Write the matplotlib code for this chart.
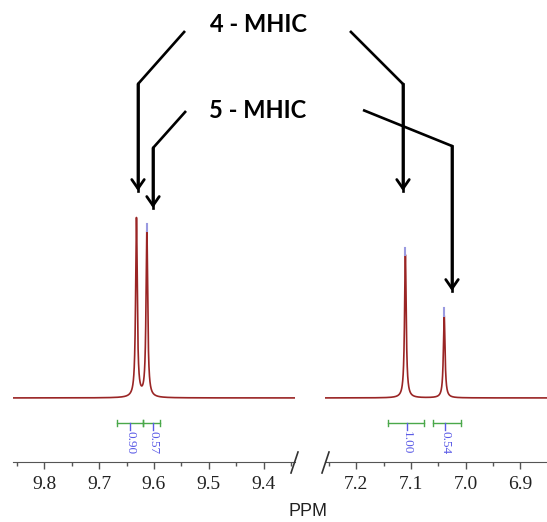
#!/usr/bin/env python3
"""
1H NMR excerpt: 4-MHIC vs 5-MHIC signals on a broken PPM axis
(9.85-9.35 | 7.25-6.85) with integrals and arrow callouts.
Writes out.png (547x522).
"""
import numpy as np
import matplotlib

matplotlib.use("Agg")
import matplotlib.pyplot as plt
from matplotlib.lines import Line2D

# peaks: chemical shift (ppm), relative height, peak-pick marker shown
LEFT_SHIFTS = [9.632, 9.613]
LEFT_HEIGHTS = [1.00, 0.93]
LEFT_MARKED = [False, True]
RIGHT_SHIFTS = [7.110, 7.039]
RIGHT_HEIGHTS = [0.80, 0.46]
RIGHT_MARKED = [True, True]
HWHM = 0.0018  # lorentzian half width, ppm

# integrals: region edges (ppm), value label, label position (ppm)
LEFT_INT_EDGES = [(9.667, 9.620), (9.620, 9.589)]
LEFT_INT_VALUES = ["0.90", "0.57"]
LEFT_INT_POS = [9.643, 9.601]
RIGHT_INT_EDGES = [(7.141, 7.076), (7.059, 7.008)]
RIGHT_INT_VALUES = ["1.00", "0.54"]
RIGHT_INT_POS = [7.107, 7.037]

LEFT_XLIM = (9.857, 9.343)
RIGHT_XLIM = (7.257, 6.851)
LEFT_TICKS = [9.8, 9.7, 9.6, 9.5, 9.4]
RIGHT_TICKS = [7.2, 7.1, 7.0, 6.9]

LABELS = ["4 - MHIC", "5 - MHIC"]

W, H = 547, 522
RED = "#9a2525"
GREEN = "#4aa84a"
BLUE = "#5a5ae6"


def px(x, y):
    # pixel (from top-left) -> figure fraction
    return x / W, 1 - y / H


def spectrum(xlim, shifts, heights):
    x = np.linspace(xlim[0], xlim[1], 6000)
    y = np.zeros_like(x)
    for s, h in zip(shifts, heights):
        y += h * HWHM**2 / ((x - s) ** 2 + HWHM**2)
    return x, y


def panel(fig, rect, xlim, ticks, shifts, heights, marked, edges, values, pos):
    ax = fig.add_axes(rect)
    x, y = spectrum(xlim, shifts, heights)
    ax.plot(x, y, color=RED, lw=1.2)
    # peak-pick markers
    for s, h, m in zip(shifts, heights, marked):
        if m:
            ax.plot([s, s], [h, h + 0.04], color="#9a9ae0", lw=1.5)
    # integrals
    yb, dt = -0.14, 0.017
    for (a, b), v, p in zip(edges, values, pos):
        ax.plot([a, b], [yb, yb], color=GREEN, lw=1.0)
        for e in (a, b):
            ax.plot([e, e], [yb - dt, yb + dt], color=GREEN, lw=1.0)
        ax.plot([p, p], [yb, yb - 0.04], color=BLUE, lw=1.0)
        ax.text(p, yb - 0.042, v, rotation=-90, ha="center", va="top",
                color=BLUE, fontsize=9.5, family="Liberation Serif")
    ax.set_xlim(*xlim)
    ax.set_ylim(-0.358, 1.106)
    ax.set_xticks(ticks)
    ax.set_xticklabels([f"{t:.1f}" for t in ticks])
    ax.xaxis.set_minor_locator(matplotlib.ticker.MultipleLocator(0.05))
    ax.tick_params(axis="x", which="major", length=5, width=1, color="#555",
                   pad=5, labelsize=14, labelcolor="#222")
    ax.tick_params(axis="x", which="minor", length=3, width=1, color="#555")
    for lab in ax.get_xticklabels():
        lab.set_family("Liberation Serif")
    ax.set_yticks([])
    for side in ("left", "right", "top"):
        ax.spines[side].set_visible(False)
    ax.spines["bottom"].set_color("#555")
    ax.patch.set_alpha(0)
    return ax


def arrow(fig, pts):
    (x0, y0), (x1, y1), (x2, y2) = [px(*p) for p in pts]
    fig.add_artist(Line2D([x0, x1], [y0, y1], color="black", lw=1.9,
                          solid_capstyle="butt"))
    fig.add_artist(Line2D([x1, x1], [y1, y2], color="black", lw=1.9))
    fig.add_artist(matplotlib.patches.FancyArrowPatch(
        (x1, y1), (x2, y2), transform=fig.transFigure,
        arrowstyle="->,head_length=0.65,head_width=0.45", mutation_scale=10,
        color="black", lw=2.0, shrinkA=0, shrinkB=0))


def main():
    fig = plt.figure(figsize=(W / 100, H / 100), dpi=100)
    bottom = 1 - 462 / H
    height = 262 / H
    panel(fig, [13 / W, bottom, 282 / W, height], LEFT_XLIM, LEFT_TICKS,
          LEFT_SHIFTS, LEFT_HEIGHTS, LEFT_MARKED,
          LEFT_INT_EDGES, LEFT_INT_VALUES, LEFT_INT_POS)
    panel(fig, [325 / W, bottom, 222 / W, height], RIGHT_XLIM, RIGHT_TICKS,
          RIGHT_SHIFTS, RIGHT_HEIGHTS, RIGHT_MARKED,
          RIGHT_INT_EDGES, RIGHT_INT_VALUES, RIGHT_INT_POS)

    # axis break marks
    for xa, xb in ((291, 298), (322, 329)):
        (a0, a1), (b0, b1) = px(xa, 473), px(xb, 452)
        fig.add_artist(Line2D([a0, b0], [a1, b1], color="#333", lw=1.2))

    fig.text(*px(308, 512), "PPM", ha="center", va="center", fontsize=13,
             family="Liberation Sans", color="#222")

    fig.text(*px(258, 25), LABELS[0], ha="center", va="center", fontsize=17,
             family="Lato", weight="bold")
    fig.text(*px(258, 110), LABELS[1], ha="center", va="center", fontsize=17,
             family="Lato", weight="bold")

    arrow(fig, [(185, 31), (138, 84), (138, 191)])
    arrow(fig, [(186, 111), (153, 148), (153, 208)])
    arrow(fig, [(350, 31), (403, 84), (403, 191)])
    arrow(fig, [(363, 110), (452, 146), (452, 291)])

    fig.savefig("out.png", dpi=100)
    plt.close(fig)
    return 0


if __name__ == "__main__":
    raise SystemExit(main())
